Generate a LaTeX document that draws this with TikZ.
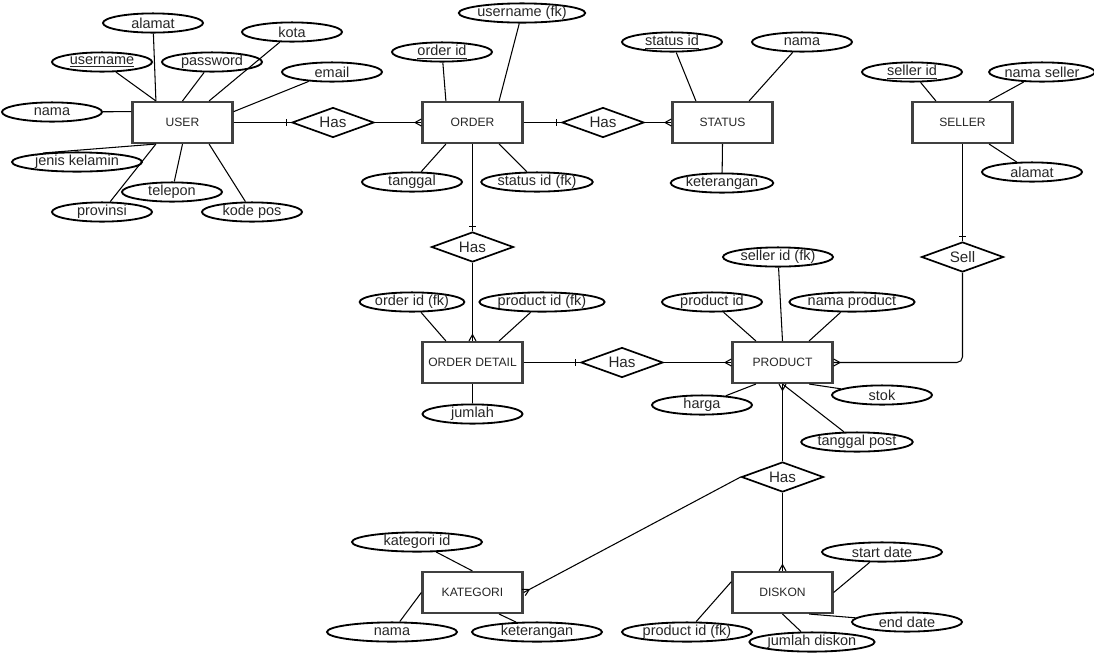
\documentclass[tikz,border=0pt]{standalone}
\usepackage{fontspec}
\setmainfont{Liberation Sans}
\usetikzlibrary{shapes.geometric,arrows.meta}

\pgfdeclarearrow{
  name = ermany,
  parameters = {\the\pgfarrowlength,\the\pgfarrowwidth},
  setup code = {
    \pgfarrowssettipend{0pt}
    \pgfarrowssetlineend{0pt}
    \pgfarrowssetbackend{-\pgfarrowlength}
    \pgfarrowshullpoint{0pt}{.5\pgfarrowwidth}
    \pgfarrowshullpoint{0pt}{-.5\pgfarrowwidth}
    \pgfarrowshullpoint{-\pgfarrowlength}{0pt}
    \pgfarrowssavethe\pgfarrowlength
    \pgfarrowssavethe\pgfarrowwidth
  },
  drawing code = {
    \pgfpathmoveto{\pgfpoint{0pt}{.5\pgfarrowwidth}}
    \pgfpathlineto{\pgfpoint{-\pgfarrowlength}{0pt}}
    \pgfpathlineto{\pgfpoint{0pt}{-.5\pgfarrowwidth}}
    \pgfusepathqstroke
  },
  defaults = {length=4.5pt, width=5pt}
}

\pgfdeclarearrow{
  name = erone,
  parameters = {\the\pgfarrowlength,\the\pgfarrowwidth},
  setup code = {
    \pgfarrowssettipend{0pt}
    \pgfarrowssetlineend{0pt}
    \pgfarrowssetbackend{-\pgfarrowlength}
    \pgfarrowshullpoint{0pt}{0pt}
    \pgfarrowshullpoint{-\pgfarrowlength}{.5\pgfarrowwidth}
    \pgfarrowshullpoint{-\pgfarrowlength}{-.5\pgfarrowwidth}
    \pgfarrowssavethe\pgfarrowlength
    \pgfarrowssavethe\pgfarrowwidth
  },
  drawing code = {
    \pgfpathmoveto{\pgfpoint{-\pgfarrowlength}{.5\pgfarrowwidth}}
    \pgfpathlineto{\pgfpoint{-\pgfarrowlength}{-.5\pgfarrowwidth}}
    \pgfusepathqstroke
  },
  defaults = {length=3.5pt, width=4.5pt}
}

\tikzset{
  entity/.style={draw=black!75, line width=1.6pt, minimum width=2.5cm, minimum height=1.02cm, inner sep=0pt, text=black!85, font=\fontsize{8.6}{10}\selectfont},
  attr/.style={ellipse, draw, line width=1.3pt, minimum width=2.5cm, minimum height=0.48cm, inner sep=0pt, text=black!85, font=\fontsize{10.3}{12}\selectfont},
  rel/.style={diamond, aspect=2.7, draw, line width=1.2pt, minimum width=2.05cm, minimum height=0.75cm, inner sep=0pt, text=black!85, font=\fontsize{10.8}{13}\selectfont},
  link/.style={line width=0.75pt},
  tomany/.style={link, -{ermany}},
  toone/.style={link, -{erone}}
}

\begin{document}
\begin{tikzpicture}[x=0.025cm, y=-0.025cm]
\useasboundingbox (0,0) rectangle (1094,654);

\node[entity] (user) at (182.5,122.5) {USER};
\node[attr] (alamat) at (153,23) {alamat};
\node[attr] (kota) at (292,32) {kota};
\node[attr] (username) at (102,62) {\underline{username}};
\node[attr] (password) at (212,62) {password};
\node[attr] (email) at (332,72) {email};
\node[attr] (nama) at (52,112) {nama};
\node[attr, minimum width=3.25cm] (jk) at (77,162) {jenis kelamin};
\node[attr] (telepon) at (172,192) {telepon};
\node[attr] (provinsi) at (102,212) {provinsi};
\node[attr] (kodepos) at (252,212) {kode pos};

\draw[link] (alamat) -- (user.141);
\draw[link] (username) -- (user.141);
\draw[link] (password) -- (user.north);
\draw[link] (kota) -- (user.39);
\draw[link] (email) -- (user.12);
\draw[link] (nama) -- (user.168);
\draw[link] (jk.165) -- (user.-141);
\draw[link] (telepon) -- (user.south);
\draw[link] (provinsi) -- (user.-141);
\draw[link] (kodepos) -- (user.-39);

\node[entity] (order) at (472.5,122.5) {ORDER};
\node[attr, minimum width=3cm] (userfk) at (522,13) {username (fk)};
\node[attr] (orderid) at (442,52) {\underline{order id}};
\node[attr] (tanggal) at (412,182) {tanggal};
\node[attr, minimum width=2.75cm] (statusfk) at (537,182) {status id (fk)};

\draw[link] (orderid) -- (order.141);
\draw[link] (userfk) -- (order.39);
\draw[link] (tanggal) -- (order.-141);
\draw[link] (statusfk) -- (order.-39);

\node[entity] (status) at (722.5,122.5) {STATUS};
\node[attr] (statusid) at (672,42) {\underline{status id}};
\node[attr] (statusnama) at (802,42) {nama};
\node[attr] (statusket) at (722,183) {keterangan};

\draw[link] (statusid) -- (status.141);
\draw[link] (statusnama) -- (status.39);
\draw[link] (statusket) -- (status.south);

\node[entity] (seller) at (962.5,122.5) {SELLER};
\node[attr] (sellerid) at (912,72) {\underline{seller id}};
\node[attr] (sellernama) at (1042,72) {nama seller};
\node[attr] (selleralamat) at (1032,172) {alamat};

\draw[link] (sellerid) -- (seller.141);
\draw[link] (sellernama) -- (seller.39);
\draw[link] (selleralamat) -- (seller.-39);

\node[entity] (detail) at (472.5,362.5) {ORDER DETAIL};
\node[attr] (orderfk) at (412,302) {order id (fk)};
\node[attr, minimum width=3cm] (productfk) at (542,302) {product id (fk)};
\node[attr] (jumlah) at (472.5,414) {jumlah};

\draw[link] (orderfk) -- (detail.141);
\draw[link] (productfk) -- (detail.39);
\draw[link] (jumlah) -- (detail.south);

\node[entity] (product) at (782.5,362.5) {PRODUCT};
\node[attr, minimum width=2.75cm] (sellerfk) at (778,257) {seller id (fk)};
\node[attr] (productid) at (712,302) {product id};
\node[attr, minimum width=3cm] (productnama) at (852,302) {nama product};
\node[attr] (harga) at (702,405) {harga};
\node[attr] (stok) at (882,395) {stok};
\node[attr, minimum width=2.75cm] (tglpost) at (857,442) {tanggal post};

\draw[link] (sellerfk) -- (product.north);
\draw[link] (productid) -- (product.141);
\draw[link] (productnama) -- (product.39);
\draw[link] (harga) -- (product.-141);
\draw[link] (stok) -- (product.-39);
\draw[link] (tglpost) -- (product.south);

\node[entity] (kategori) at (472.5,592.5) {KATEGORI};
\node[attr, minimum width=3.25cm] (kategoriid) at (417,542) {kategori id};
\node[attr, minimum width=3.25cm] (kategorinama) at (392,632) {nama};
\node[attr, minimum width=3.25cm] (kategoriket) at (537,632) {keterangan};

\draw[link] (kategoriid) -- (kategori.north);
\draw[link] (kategorinama) -- (kategori.west);
\draw[link] (kategoriket) -- (kategori.-39);

\node[entity] (diskon) at (782.5,592.5) {DISKON};
\node[attr, minimum width=3cm] (startdate) at (882,552) {start date};
\node[attr, minimum width=2.75cm] (enddate) at (907,622) {end date};
\node[attr, minimum width=3.25cm] (diskonfk) at (687,632) {product id (fk)};
\node[attr, minimum width=3cm] (jumlahdiskon) at (812,642) {jumlah diskon};

\draw[link] (startdate) -- (diskon.east);
\draw[link] (enddate) -- (diskon.-39);
\draw[link] (diskonfk) -- (diskon.168);
\draw[link] (jumlahdiskon) -- (diskon.south);

\node[rel] (has1) at (333,122.5) {Has};
\node[rel] (has2) at (603,122.5) {Has};
\node[rel] (has3) at (472.5,247) {Has};
\node[rel] (has4) at (622,362.5) {Has};
\node[rel] (sell) at (962.5,257) {Sell};
\node[rel] (has5) at (782.5,477) {Has};

\draw[toone] (user) -- (has1);
\draw[tomany] (has1) -- (order);
\draw[toone] (order) -- (has2);
\draw[tomany] (has2) -- (status);
\draw[toone] (order) -- (has3);
\draw[tomany] (has3) -- (detail);
\draw[toone] (detail) -- (has4);
\draw[tomany] (has4) -- (product);
\draw[toone] (seller) -- (sell);
\draw[tomany, rounded corners=4pt] (sell) |- (product);
\draw[link, {ermany}-] (product) -- (has5);
\draw[tomany] (has5) -- (diskon);
\draw[tomany] (has5.west) -- (kategori.east);
\end{tikzpicture}
\end{document}
